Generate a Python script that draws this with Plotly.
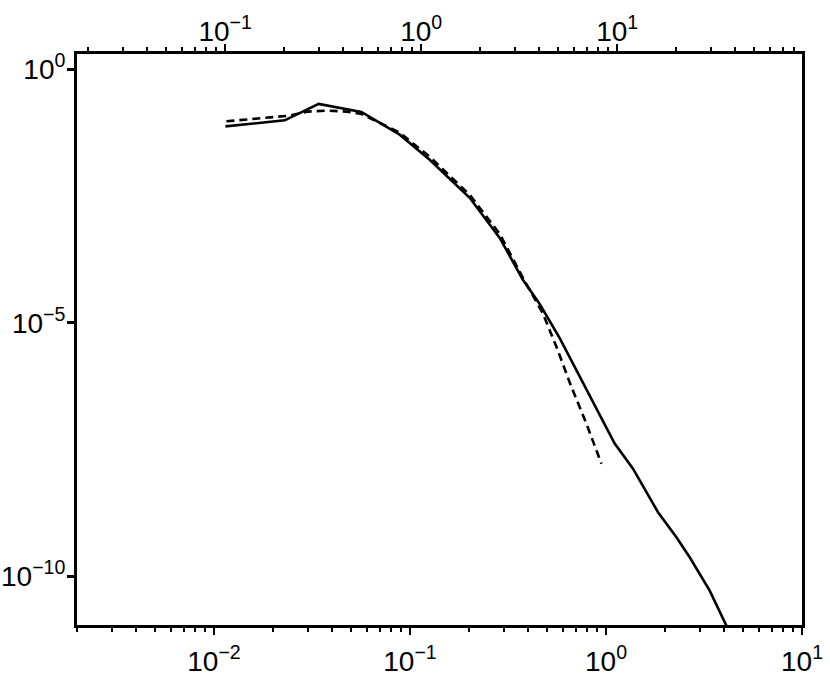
import plotly.graph_objects as go

# Solid curve (bottom x axis, log-log)
solid_x = [0.01143, 0.02295, 0.03421, 0.05649, 0.08858, 0.1260, 0.2017, 0.2869,
           0.3772, 0.4588, 0.5804, 0.7339, 0.9286, 1.1076, 1.373, 1.842, 2.287,
           2.673, 3.381, 4.115, 4.81]
solid_y = [0.0747, 0.0983, 0.2071, 0.1439, 0.05123, 0.01642, 2.913e-3, 4.72e-4,
           6.98e-5, 2.342e-5, 4.98e-6, 8.56e-7, 1.50e-7, 4.14e-8, 1.326e-8,
           1.84e-9, 5.90e-10, 2.37e-10, 5.22e-11, 1.06e-11, 4.9e-12]

# Dashed curve
dash_x = [0.01157, 0.02433, 0.03006, 0.03744, 0.04737, 0.05649, 0.08858, 0.1260,
          0.2017, 0.2869, 0.377, 0.4227, 0.4753, 0.5585, 0.666, 0.794, 0.9474]
dash_y = [0.0938, 0.1216, 0.1459, 0.1527, 0.1459, 0.1314, 0.0561, 0.01882,
          3.34e-3, 5.66e-4, 7.64e-5, 3.53e-5, 1.555e-5, 3.36e-6, 5.43e-7,
          1.028e-7, 1.665e-8]

# Top axis is the bottom axis scaled by this factor
top_scale = 8.77

# Axis ticks
bottom_ticks = [0.01, 0.1, 1, 10]
bottom_text = ["10<sup>−2</sup>", "10<sup>−1</sup>", "10<sup>0</sup>", "10<sup>1</sup>"]
top_ticks = [0.1, 1, 10]
top_text = ["10<sup>−1</sup>", "10<sup>0</sup>", "10<sup>1</sup>"]
y_ticks = [1, 1e-5, 1e-10]
y_text = ["10<sup>0</sup>", "10<sup>−5</sup>", "10<sup>−10</sup>"]

bottom_minor = [m * 10.0 ** e for e in (-3, -2, -1, 0) for m in range(2, 10)]
top_minor = [m * 10.0 ** e for e in (-2, -1, 0, 1) for m in range(2, 10)]

fig = go.Figure()
fig.add_trace(go.Scatter(x=solid_x, y=solid_y, mode="lines",
                         line=dict(color="black", width=2.6), showlegend=False))
fig.add_trace(go.Scatter(x=dash_x, y=dash_y, mode="lines",
                         line=dict(color="black", width=2.6, dash="8px,5px"),
                         showlegend=False))
# invisible companion trace so the top axis is drawn
fig.add_trace(go.Scatter(x=[v * top_scale for v in solid_x], y=solid_y,
                         xaxis="x2", mode="lines", opacity=0,
                         line=dict(color="black", width=0), hoverinfo="skip",
                         showlegend=False))

font = dict(family="Liberation Sans", size=28, color="black")

fig.update_layout(
    width=830, height=676,
    margin=dict(l=77, r=28, t=54, b=51, autoexpand=False),
    paper_bgcolor="white", plot_bgcolor="white",
    font=font,
    showlegend=False,
    xaxis=dict(type="log", range=[-2.699, 1.0], showgrid=False, zeroline=False,
               automargin=False,
               showline=True, linecolor="black", linewidth=3,
               ticks="outside", ticklen=7, tickwidth=2, tickcolor="black",
               ticklabelstandoff=2,
               tickmode="array", tickvals=bottom_ticks, ticktext=bottom_text,
               tickfont=font,
               minor=dict(ticks="outside", ticklen=4, tickwidth=2, tickcolor="black",
                          tickvals=bottom_minor, showgrid=False)),
    xaxis2=dict(type="log", range=[-1.756, 1.943], overlaying="x", side="top",
                anchor="y", showgrid=False, zeroline=False, automargin=False,
                showline=True, linecolor="black", linewidth=3,
                ticks="outside", ticklen=7, tickwidth=2, tickcolor="black",
                ticklabelstandoff=-8,
                tickmode="array", tickvals=top_ticks, ticktext=top_text,
                tickfont=font,
                minor=dict(ticks="outside", ticklen=4, tickwidth=2, tickcolor="black",
                           tickvals=top_minor, showgrid=False)),
    yaxis=dict(type="log", range=[-10.96, 0.30], showgrid=False, zeroline=False,
               automargin=False,
               showline=True, linecolor="black", linewidth=3, mirror=True,
               ticks="outside", ticklen=7, tickwidth=2.5, tickcolor="black",
               ticklabelstandoff=-4,
               tickmode="array", tickvals=y_ticks, ticktext=y_text,
               tickfont=font),
)

fig.write_html("out.html", config={"displayModeBar": False},
               post_script="document.body.style.margin='0';")
